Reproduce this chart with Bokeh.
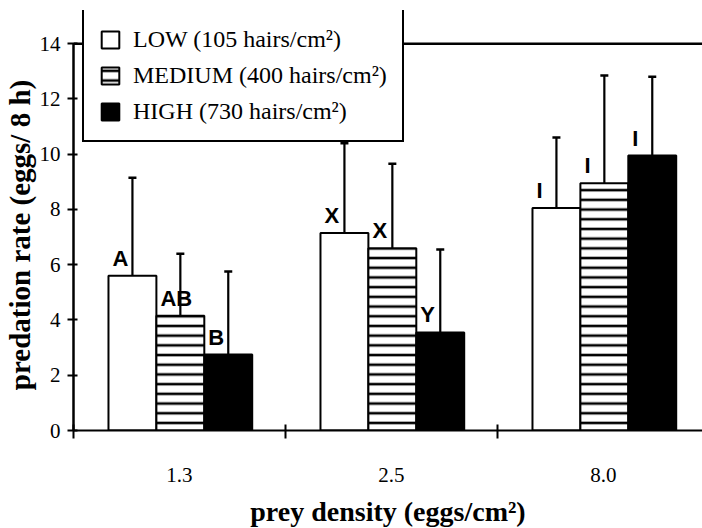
from bokeh.plotting import figure
from bokeh.models import (Range1d, FixedTicker, Whisker, TeeHead, ColumnDataSource,
                          Legend, LegendItem, Span)
from bokeh.core.properties import value
from bokeh.embed import file_html
from bokeh.resources import INLINE

# ---- data ----
categories = ["1.3", "2.5", "8.0"]
series_names = ["LOW (105 hairs/cm²)", "MEDIUM (400 hairs/cm²)", "HIGH (730 hairs/cm²)"]
low_mean = [5.6, 7.15, 8.05]
low_upper = [9.15, 10.4, 10.6]
medium_mean = [4.15, 6.6, 8.95]
medium_upper = [6.4, 9.65, 12.85]
high_mean = [2.75, 3.55, 9.95]
high_upper = [5.75, 6.55, 12.8]
low_letters = ["A", "X", "I"]
medium_letters = ["AB", "X", "I"]
high_letters = ["B", "Y", "I"]
y_ticks = [0, 2, 4, 6, 8, 10, 12, 14]

SERIF = "Liberation Serif"
SANS = "Liberation Sans"

FH = 420
p = figure(frame_width=629, frame_height=FH, output_backend="svg", toolbar_location=None,
           x_range=Range1d(0, 2.967), y_range=Range1d(0, 15.2),
           min_border_left=73, min_border_right=0, min_border_top=10, min_border_bottom=98)
p.outline_line_color = None
p.xgrid.visible = False
p.ygrid.visible = False
p.background_fill_color = "white"

bar_w = 0.226
offsets = [-0.222, 0.004, 0.23]
styles = [
    dict(fill_color="white"),
    dict(fill_color="white", hatch_pattern="horizontal_line", hatch_color="black",
         hatch_scale=9.7, hatch_weight=2.6),
    dict(fill_color="black"),
]
means = [low_mean, medium_mean, high_mean]
uppers = [low_upper, medium_upper, high_upper]
letters = [low_letters, medium_letters, high_letters]

renderers = []
for k in range(3):
    xs = [i + 0.5 + offsets[k] for i in range(len(categories))]
    src = ColumnDataSource(dict(x=xs, top=means[k], upper=uppers[k],
                                left=[x - bar_w / 2 for x in xs], lab=letters[k]))
    r = p.vbar(x="x", top="top", width=bar_w, bottom=0, source=src,
               line_color="black", line_width=2, **styles[k])
    renderers.append(r)
    w = Whisker(base="x", upper="upper", lower="top", source=src, dimension="height",
                line_color="black", line_width=2.2,
                upper_head=TeeHead(size=8, line_width=2.5, line_color="black"),
                lower_head=None)
    p.add_layout(w)
    p.text(x="left", y="top", text="lab", source=src, x_offset=4, y_offset=-5,
           text_align="left", text_baseline="bottom",
           text_font=value(SANS), text_font_style="bold", text_font_size="22px",
           text_color="black")

# top frame line at 14
p.add_layout(Span(location=14, dimension="width", line_color="black", line_width=2.5))

# axes
yax = p.yaxis[0]
yax.ticker = FixedTicker(ticks=y_ticks)
yax.bounds = (0, 14)
yax.axis_line_width = 2.5
yax.axis_line_color = "black"
yax.major_tick_in = 4
yax.major_tick_out = 6
yax.major_tick_line_width = 2
yax.major_tick_line_color = "black"
yax.minor_tick_line_color = None
yax.major_label_text_font = SERIF
yax.major_label_text_font_size = "21px"
yax.major_label_text_color = "black"
yax.major_label_standoff = 7
yax.axis_label = "predation rate (eggs/ 8 h)" + "\u00a0" * 4
yax.axis_label_text_font = SERIF
yax.axis_label_text_font_style = "bold"
yax.axis_label_text_font_size = "29px"
yax.axis_label_text_color = "black"
yax.axis_label_standoff = 1

xax = p.xaxis[0]
xax.ticker = FixedTicker(ticks=[i + 0.5 for i in range(len(categories))],
                         minor_ticks=[float(i) for i in range(len(categories) + 1)])
xax.major_label_overrides = {i + 0.5: c for i, c in enumerate(categories)}
xax.axis_line_width = 2
xax.axis_line_color = "black"
xax.major_tick_in = 0
xax.major_tick_out = 0
xax.minor_tick_in = 6
xax.minor_tick_out = 8
xax.minor_tick_line_width = 2
xax.minor_tick_line_color = "black"
xax.major_label_text_font = SERIF
xax.major_label_text_font_size = "21px"
xax.major_label_text_color = "black"
xax.major_label_standoff = 29
xax.axis_label = "prey density (eggs/cm²)"
xax.axis_label_text_font = SERIF
xax.axis_label_text_font_style = "bold"
xax.axis_label_text_font_size = "28px"
xax.axis_label_text_color = "black"
xax.axis_label_standoff = 11

legend = Legend(items=[LegendItem(label=series_names[k], renderers=[renderers[k]]) for k in range(3)],
                location=(9, FH - 132), orientation="vertical",
                border_line_color="black", border_line_width=2.5, border_line_alpha=1,
                background_fill_color="white", background_fill_alpha=1,
                label_text_font=SERIF, label_text_font_size="24px", label_text_color="black",
                glyph_width=22, glyph_height=21, label_height=28, spacing=8,
                padding=15, label_standoff=12, margin=0)
p.add_layout(legend, "center")

open("out.html", "w").write(file_html(p, INLINE))
